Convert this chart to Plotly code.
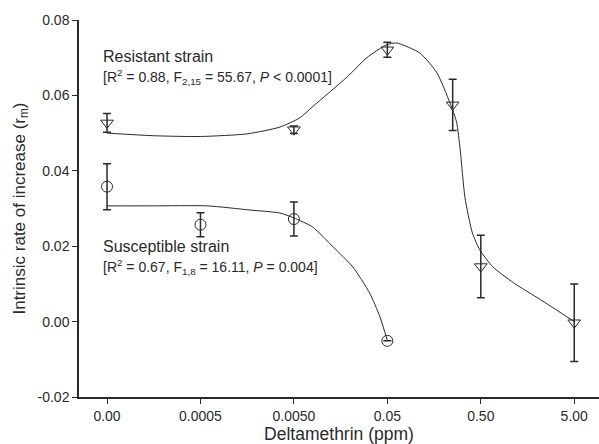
import math
import plotly.graph_objects as go

# ---- data ----
tick_doses = [0.0, 0.0005, 0.005, 0.05, 0.5, 5.0]
tick_labels = ["0.00", "0.0005", "0.0050", "0.05", "0.50", "5.00"]

res_dose = [0.0, 0.005, 0.05, 0.25, 0.5, 5.0]
res_mean = [0.0527, 0.0509, 0.0721, 0.0575, 0.0146, -0.0003]
res_err = [0.0025, 0.0010, 0.0020, 0.0068, 0.0083, 0.0103]

sus_dose = [0.0, 0.0005, 0.005, 0.05]
sus_mean = [0.0358, 0.0257, 0.0272, -0.0051]
sus_err = [0.0061, 0.0032, 0.0045, 0.0]

# fitted curves (x in axis position units)
res_fit_pos = [0, 0.5, 1.0, 1.5, 1.85, 2.06, 2.2, 2.57, 2.78, 2.99, 3.10, 3.35, 3.53,
               3.67, 3.74, 3.78, 3.83, 3.91, 3.99, 4.13, 4.35, 4.64, 5.0]
res_fit_y = [0.0500, 0.0493, 0.0491, 0.0498, 0.0516, 0.0540, 0.0570, 0.0649, 0.0700,
             0.0734, 0.0739, 0.0712, 0.0660, 0.0580, 0.0530, 0.0455, 0.0330, 0.0235,
             0.0190, 0.0145, 0.0103, 0.0058, 0.0000]
sus_fit_pos = [0, 0.5, 1.07, 1.53, 1.85, 2.0, 2.2, 2.42, 2.63, 2.81, 2.92, 3.0]
sus_fit_y = [0.0307, 0.0307, 0.0307, 0.0296, 0.0288, 0.0275, 0.0251, 0.0198, 0.0145,
             0.0076, 0.0013, -0.0050]

label_text = ["Resistant strain",
              "[R<sup>2</sup> = 0.88, F<sub>2,15</sub> = 55.67, <i>P</i> &lt; 0.0001]",
              "Susceptible strain",
              "[R<sup>2</sup> = 0.67, F<sub>1,8</sub> = 16.11, <i>P</i> = 0.004]"]
label_y = [0.0702, 0.0650, 0.0198, 0.0146]


def pos(d):
    return 0.0 if d == 0 else math.log10(d / 0.0005) + 1


ink = "#2a2a2a"
font = "Liberation Sans, Arial, sans-serif"
fig = go.Figure()

for xs, ys in [(res_fit_pos, res_fit_y), (sus_fit_pos, sus_fit_y)]:
    fig.add_trace(go.Scatter(x=xs, y=ys, mode="lines",
                             line=dict(color=ink, width=1, shape="spline", smoothing=0.6),
                             showlegend=False, hoverinfo="skip"))

fig.add_trace(go.Scatter(x=[pos(d) for d in res_dose], y=res_mean, mode="markers",
                         marker=dict(symbol="triangle-down-open", size=11, color=ink,
                                     line=dict(width=1, color=ink)),
                         error_y=dict(type="data", array=res_err, visible=True,
                                      color=ink, thickness=1.5, width=4),
                         showlegend=False))
fig.add_trace(go.Scatter(x=[pos(d) for d in sus_dose], y=sus_mean, mode="markers",
                         marker=dict(symbol="circle-open", size=11, color=ink,
                                     line=dict(width=1, color=ink)),
                         error_y=dict(type="data", array=sus_err, visible=True,
                                      color=ink, thickness=1.5, width=4),
                         showlegend=False))

sizes = [16, 14, 16, 14]
for txt, yv, fs in zip(label_text, label_y, sizes):
    fig.add_annotation(x=-0.065, y=yv, text=txt, showarrow=False, xanchor="left",
                       yanchor="middle", font=dict(size=fs, color=ink, family=font))

fig.update_layout(
    width=599, height=444,
    margin=dict(l=79, r=0, t=20, b=47),
    paper_bgcolor="white", plot_bgcolor="white",
    font=dict(family=font, color=ink, size=14),
    xaxis=dict(range=[-0.30, 5.265], tickvals=[pos(d) for d in tick_doses],
               ticktext=tick_labels, showgrid=False, zeroline=False,
               showline=True, linecolor=ink, linewidth=1.5,
               ticks="outside", ticklen=5, tickcolor=ink, tickwidth=1,
               tickfont=dict(size=14),
               title=dict(text="Deltamethrin (ppm)", font=dict(size=17.5), standoff=4)),
    yaxis=dict(range=[-0.02, 0.08], tickvals=[-0.02, 0.0, 0.02, 0.04, 0.06, 0.08],
               ticktext=["-0.02", "0.00", "0.02", "0.04", "0.06", "0.08"],
               showgrid=False, zeroline=False, showline=True, linecolor=ink, linewidth=1.5,
               ticks="outside", ticklen=5, tickcolor=ink, tickwidth=1,
               tickfont=dict(size=14),
               title=dict(text="Intrinsic rate of increase (r<sub>m</sub>)",
                          font=dict(size=17), standoff=8)),
)

fig.write_html("out.html", config={"displayModeBar": False},
               post_script="document.body.style.margin='0';")
